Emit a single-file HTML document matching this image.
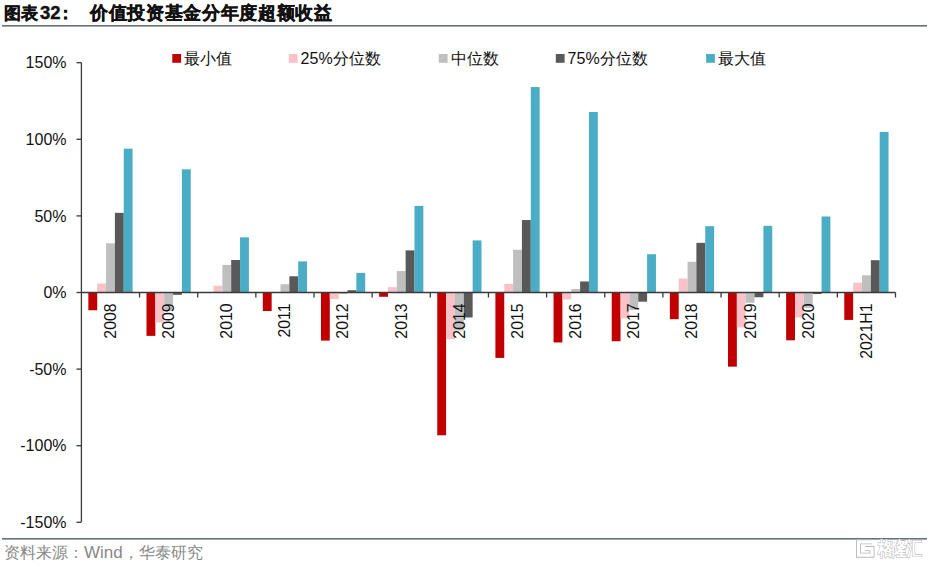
<!DOCTYPE html>
<html><head><meta charset="utf-8">
<style>
html,body{margin:0;padding:0;background:#fff;}
body{width:930px;height:565px;overflow:hidden;position:relative;font-family:"Liberation Sans",sans-serif;}
svg{position:absolute;left:0;top:0;}
.yl text{font-family:"Liberation Sans",sans-serif;font-size:16px;fill:#111;}
.xl text{font-family:"Liberation Sans",sans-serif;font-size:15.8px;fill:#111;}
.lg text{font-family:"Liberation Sans",sans-serif;font-size:16px;fill:#111;}
.ttl{font-family:"Liberation Sans",sans-serif;font-size:17px;font-weight:900;fill:#111;stroke:#111;stroke-width:0.4px;}
.ttl2{font-family:"Liberation Sans",sans-serif;font-size:18px;letter-spacing:0.66px;font-weight:900;fill:#111;stroke:#111;stroke-width:0.4px;}
.src{font-family:"Liberation Sans",sans-serif;font-size:16px;fill:#888;}
.wm{font-family:"Liberation Sans",sans-serif;font-size:19px;font-weight:bold;fill:#fff;stroke:#b4b4b4;stroke-width:1.1px;paint-order:stroke;}
</style></head>
<body>
<svg width="930" height="565" viewBox="0 0 930 565">
<text class="ttl" x="4" y="18.8">图表<tspan font-size="18.5" dx="2">32</tspan><tspan dx="-3.5">：</tspan></text>
<text class="ttl2" x="90" y="18.8">价值投资基金分年度超额收益</text>
<rect x="2" y="25" width="925" height="1.6" fill="#66727a"/>
<rect x="2" y="538" width="925" height="1.6" fill="#66727a"/>
<g><rect x="88.35" y="292.50" width="8.85" height="17.77" fill="#c00000"/><rect x="97.20" y="283.46" width="8.85" height="9.04" fill="#f7c3c8"/><rect x="106.05" y="243.32" width="8.85" height="49.18" fill="#bfbfbf"/><rect x="114.90" y="212.84" width="8.85" height="79.66" fill="#595959"/><rect x="123.75" y="148.65" width="8.85" height="143.85" fill="#4bacc6"/><rect x="146.50" y="292.50" width="8.85" height="43.36" fill="#c00000"/><rect x="155.35" y="292.50" width="8.85" height="30.03" fill="#f7c3c8"/><rect x="164.20" y="292.50" width="8.85" height="18.23" fill="#bfbfbf"/><rect x="173.05" y="292.50" width="8.85" height="2.30" fill="#595959"/><rect x="181.90" y="169.33" width="8.85" height="123.17" fill="#4bacc6"/><rect x="204.65" y="292.50" width="8.85" height="0.46" fill="#c00000"/><rect x="213.50" y="285.61" width="8.85" height="6.89" fill="#f7c3c8"/><rect x="222.35" y="264.92" width="8.85" height="27.58" fill="#bfbfbf"/><rect x="231.20" y="260.02" width="8.85" height="32.48" fill="#595959"/><rect x="240.05" y="237.35" width="8.85" height="55.15" fill="#4bacc6"/><rect x="262.80" y="292.50" width="8.85" height="18.54" fill="#c00000"/><rect x="271.65" y="292.04" width="8.85" height="0.46" fill="#f7c3c8"/><rect x="280.50" y="284.23" width="8.85" height="8.27" fill="#bfbfbf"/><rect x="289.35" y="276.26" width="8.85" height="16.24" fill="#595959"/><rect x="298.20" y="261.40" width="8.85" height="31.10" fill="#4bacc6"/><rect x="320.95" y="292.50" width="8.85" height="48.10" fill="#c00000"/><rect x="329.80" y="292.50" width="8.85" height="6.59" fill="#f7c3c8"/><rect x="338.65" y="292.50" width="8.85" height="1.53" fill="#bfbfbf"/><rect x="347.50" y="290.20" width="8.85" height="2.30" fill="#595959"/><rect x="356.35" y="272.89" width="8.85" height="19.61" fill="#4bacc6"/><rect x="379.10" y="292.50" width="8.85" height="4.29" fill="#c00000"/><rect x="387.95" y="287.14" width="8.85" height="5.36" fill="#f7c3c8"/><rect x="396.80" y="271.05" width="8.85" height="21.45" fill="#bfbfbf"/><rect x="405.65" y="250.37" width="8.85" height="42.13" fill="#595959"/><rect x="414.50" y="205.94" width="8.85" height="86.56" fill="#4bacc6"/><rect x="437.25" y="292.50" width="8.85" height="142.78" fill="#c00000"/><rect x="446.10" y="292.50" width="8.85" height="46.57" fill="#f7c3c8"/><rect x="454.95" y="292.50" width="8.85" height="37.99" fill="#bfbfbf"/><rect x="463.80" y="292.50" width="8.85" height="24.97" fill="#595959"/><rect x="472.65" y="240.41" width="8.85" height="52.09" fill="#4bacc6"/><rect x="495.40" y="292.50" width="8.85" height="65.42" fill="#c00000"/><rect x="504.25" y="283.92" width="8.85" height="8.58" fill="#f7c3c8"/><rect x="513.10" y="249.76" width="8.85" height="42.74" fill="#bfbfbf"/><rect x="521.95" y="220.04" width="8.85" height="72.46" fill="#595959"/><rect x="530.80" y="87.06" width="8.85" height="205.44" fill="#4bacc6"/><rect x="553.55" y="292.50" width="8.85" height="49.94" fill="#c00000"/><rect x="562.40" y="292.50" width="8.85" height="7.05" fill="#f7c3c8"/><rect x="571.25" y="288.98" width="8.85" height="3.52" fill="#bfbfbf"/><rect x="580.10" y="281.47" width="8.85" height="11.03" fill="#595959"/><rect x="588.95" y="112.03" width="8.85" height="180.47" fill="#4bacc6"/><rect x="611.70" y="292.50" width="8.85" height="48.72" fill="#c00000"/><rect x="620.55" y="292.50" width="8.85" height="25.89" fill="#f7c3c8"/><rect x="629.40" y="292.50" width="8.85" height="17.46" fill="#bfbfbf"/><rect x="638.25" y="292.50" width="8.85" height="9.19" fill="#595959"/><rect x="647.10" y="254.20" width="8.85" height="38.30" fill="#4bacc6"/><rect x="669.85" y="292.50" width="8.85" height="26.66" fill="#c00000"/><rect x="678.70" y="278.56" width="8.85" height="13.94" fill="#f7c3c8"/><rect x="687.55" y="261.86" width="8.85" height="30.64" fill="#bfbfbf"/><rect x="696.40" y="242.86" width="8.85" height="49.64" fill="#595959"/><rect x="705.25" y="226.16" width="8.85" height="66.34" fill="#4bacc6"/><rect x="728.00" y="292.50" width="8.85" height="74.15" fill="#c00000"/><rect x="736.85" y="292.50" width="8.85" height="34.93" fill="#f7c3c8"/><rect x="745.70" y="292.50" width="8.85" height="10.26" fill="#bfbfbf"/><rect x="754.55" y="292.50" width="8.85" height="4.75" fill="#595959"/><rect x="763.40" y="225.86" width="8.85" height="66.64" fill="#4bacc6"/><rect x="786.15" y="292.50" width="8.85" height="47.80" fill="#c00000"/><rect x="795.00" y="292.50" width="8.85" height="24.97" fill="#f7c3c8"/><rect x="803.85" y="292.50" width="8.85" height="15.32" fill="#bfbfbf"/><rect x="812.70" y="292.50" width="8.85" height="1.53" fill="#595959"/><rect x="821.55" y="216.51" width="8.85" height="75.99" fill="#4bacc6"/><rect x="844.30" y="292.50" width="8.85" height="27.42" fill="#c00000"/><rect x="853.15" y="282.70" width="8.85" height="9.80" fill="#f7c3c8"/><rect x="862.00" y="275.34" width="8.85" height="17.16" fill="#bfbfbf"/><rect x="870.85" y="260.17" width="8.85" height="32.33" fill="#595959"/><rect x="879.70" y="131.95" width="8.85" height="160.55" fill="#4bacc6"/></g>
<g stroke="#3a3a3a" stroke-width="1.3">
<line x1="81.40" y1="62.5" x2="81.40" y2="522.1"/>
<line x1="76.5" y1="62.70" x2="81.40" y2="62.70"/><line x1="76.5" y1="139.30" x2="81.40" y2="139.30"/><line x1="76.5" y1="215.90" x2="81.40" y2="215.90"/><line x1="76.5" y1="292.50" x2="81.40" y2="292.50"/><line x1="76.5" y1="369.10" x2="81.40" y2="369.10"/><line x1="76.5" y1="445.70" x2="81.40" y2="445.70"/><line x1="76.5" y1="522.30" x2="81.40" y2="522.30"/>
<line x1="81.40" y1="292.50" x2="895.50" y2="292.50"/>
<line x1="139.55" y1="292.50" x2="139.55" y2="297.50"/><line x1="197.70" y1="292.50" x2="197.70" y2="297.50"/><line x1="255.85" y1="292.50" x2="255.85" y2="297.50"/><line x1="314.00" y1="292.50" x2="314.00" y2="297.50"/><line x1="372.15" y1="292.50" x2="372.15" y2="297.50"/><line x1="430.30" y1="292.50" x2="430.30" y2="297.50"/><line x1="488.45" y1="292.50" x2="488.45" y2="297.50"/><line x1="546.60" y1="292.50" x2="546.60" y2="297.50"/><line x1="604.75" y1="292.50" x2="604.75" y2="297.50"/><line x1="662.90" y1="292.50" x2="662.90" y2="297.50"/><line x1="721.05" y1="292.50" x2="721.05" y2="297.50"/><line x1="779.20" y1="292.50" x2="779.20" y2="297.50"/><line x1="837.35" y1="292.50" x2="837.35" y2="297.50"/><line x1="895.50" y1="292.50" x2="895.50" y2="297.50"/>
</g>
<g class="yl"><text x="66.5" y="68.30" text-anchor="end">150%</text><text x="66.5" y="144.90" text-anchor="end">100%</text><text x="66.5" y="221.50" text-anchor="end">50%</text><text x="66.5" y="298.10" text-anchor="end">0%</text><text x="66.5" y="374.70" text-anchor="end">-50%</text><text x="66.5" y="451.30" text-anchor="end">-100%</text><text x="66.5" y="527.90" text-anchor="end">-150%</text></g>
<g class="xl"><text transform="translate(115.88,303.5) rotate(-90)" text-anchor="end">2008</text><text transform="translate(174.03,303.5) rotate(-90)" text-anchor="end">2009</text><text transform="translate(232.18,303.5) rotate(-90)" text-anchor="end">2010</text><text transform="translate(290.32,303.5) rotate(-90)" text-anchor="end">2011</text><text transform="translate(348.48,303.5) rotate(-90)" text-anchor="end">2012</text><text transform="translate(406.62,303.5) rotate(-90)" text-anchor="end">2013</text><text transform="translate(464.77,303.5) rotate(-90)" text-anchor="end">2014</text><text transform="translate(522.92,303.5) rotate(-90)" text-anchor="end">2015</text><text transform="translate(581.07,303.5) rotate(-90)" text-anchor="end">2016</text><text transform="translate(639.22,303.5) rotate(-90)" text-anchor="end">2017</text><text transform="translate(697.37,303.5) rotate(-90)" text-anchor="end">2018</text><text transform="translate(755.52,303.5) rotate(-90)" text-anchor="end">2019</text><text transform="translate(813.67,303.5) rotate(-90)" text-anchor="end">2020</text><text transform="translate(871.82,303.5) rotate(-90)" text-anchor="end">2021H1</text></g>
<g class="lg"><rect x="172.3" y="54" width="8.8" height="8.8" fill="#c00000"/><text x="184.10000000000002" y="63.5">最小值</text><rect x="288.8" y="54" width="8.8" height="8.8" fill="#f7c3c8"/><text x="300.6" y="63.5">25%分位数</text><rect x="438.8" y="54" width="8.8" height="8.8" fill="#bfbfbf"/><text x="450.6" y="63.5">中位数</text><rect x="555.8" y="54" width="8.8" height="8.8" fill="#595959"/><text x="567.5999999999999" y="63.5">75%分位数</text><rect x="706.1" y="54" width="8.8" height="8.8" fill="#4bacc6"/><text x="717.9" y="63.5">最大值</text></g>
<text class="src" x="4" y="558">资料来源：<tspan font-family="Liberation Sans" font-size="17">Wind</tspan>，华泰研究</text>
<g fill="none" stroke-linejoin="miter"><path d="M872 541.8 L858.5 541.8 L858.5 555.2 L872 555.2 L872 548.6 L865 548.6" stroke="#b8b8b8" stroke-width="5"/><path d="M872 541.8 L858.5 541.8 L858.5 555.2 L872 555.2 L872 548.6 L865 548.6" stroke="#fff" stroke-width="3.2"/></g>
<text class="wm" transform="translate(877.5,554.5) scale(0.78,1)">格隆汇</text>
</svg>
</body></html>
